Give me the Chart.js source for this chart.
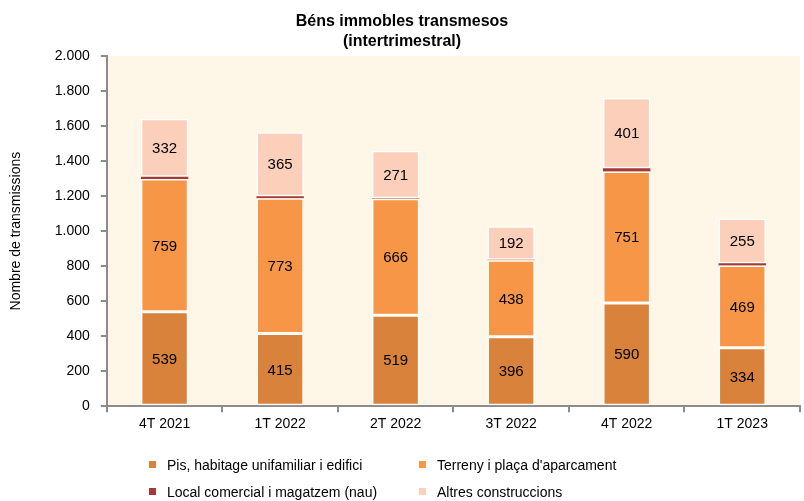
<!DOCTYPE html>
<html>
<head>
<meta charset="utf-8">
<script src="https://cdn.jsdelivr.net/npm/chart.js@4"></script>
<style>
  body { margin: 0; background: #fff; font-family: "Liberation Sans", Arial, sans-serif; }
  #wrap { position: relative; width: 804px; height: 501px; }
  #legend { position: absolute; left: 149px; top: 457px; width: 600px; font-size: 14px; color: #000; }
  .item { position: absolute; white-space: nowrap; }
  .box { display: inline-block; width: 7px; height: 7px; margin-right: 11px; vertical-align: 2px; }
</style>
</head>
<body>
<div id="wrap">
  <canvas id="grafico" width="804" height="501"></canvas>
  <div id="legend"></div>
</div>
<script>
var trimestres = ['4T 2021', '1T 2022', '2T 2022', '3T 2022', '4T 2022', '1T 2023'];
var pis = [539, 415, 519, 396, 590, 334];
var terreny = [759, 773, 666, 438, 751, 469];
var local = [12, 11, 3, 2, 18, 14];
var altres = [332, 365, 271, 192, 401, 255];
var etiquetes = ['Pis, habitage unifamiliar i edifici', 'Terreny i plaça d\'aparcament', 'Local comercial i magatzem (nau)', 'Altres construccions'];
var colors = ['#D8823C', '#F79646', '#A33A3A', '#FBCFBA'];

function formatMiles(v) {
  return v.toString().replace(/\B(?=(\d{3})+(?!\d))/g, '.');
}

var fonsPlugin = {
  id: 'fons',
  beforeDraw: function(chart) {
    var a = chart.chartArea;
    var ctx = chart.ctx;
    ctx.save();
    ctx.fillStyle = '#FEF6E7';
    ctx.fillRect(a.left, a.top, a.right - a.left, a.bottom - a.top);
    ctx.restore();
  }
};

var valorsPlugin = {
  id: 'valors',
  afterDatasetsDraw: function(chart) {
    var ctx = chart.ctx;
    ctx.save();
    ctx.font = '15px "Liberation Sans", Arial, sans-serif';
    ctx.fillStyle = '#000';
    ctx.textAlign = 'center';
    ctx.textBaseline = 'middle';
    chart.data.datasets.forEach(function(ds, i) {
      if (!ds.mostrarValor) return;
      chart.getDatasetMeta(i).data.forEach(function(bar, j) {
        var p = bar.getProps(['x', 'y', 'base'], true);
        ctx.fillText(ds.data[j], p.x, (p.y + p.base) / 2 + 1);
      });
    });
    ctx.restore();
  }
};

var series = [pis, terreny, local, altres];
var datasets = series.map(function(d, i) {
  return {
    label: etiquetes[i],
    data: d,
    backgroundColor: colors[i],
    borderColor: '#FFFFFF',
    borderWidth: i === 2 ? 0 : 1.5,
    borderSkipped: false,
    barPercentage: 0.41,
    categoryPercentage: 1,
    mostrarValor: i !== 2
  };
});

var ctx = document.getElementById('grafico');
new Chart(ctx, {
  type: 'bar',
  data: { labels: trimestres, datasets: datasets },
  plugins: [fonsPlugin, valorsPlugin],
  options: {
    responsive: false,
    animation: false,
    layout: { padding: { left: 4, right: 4, top: 0, bottom: 64 } },
    plugins: {
      legend: { display: false },
      tooltip: { enabled: false },
      title: {
        display: true,
        text: ['Béns immobles transmesos', '(intertrimestral)'],
        color: '#000',
        font: { family: '"Liberation Sans", Arial, sans-serif', size: 16, weight: 'bold', lineHeight: 1.25 },
        padding: { top: 12, bottom: 4 }
      }
    },
    scales: {
      x: {
        stacked: true,
        border: { color: '#8C8C8C', width: 2 },
        grid: { display: true, drawOnChartArea: false, color: '#8C8C8C', tickLength: 6, lineWidth: 2 },
        ticks: { color: '#000', font: { family: '"Liberation Sans", Arial, sans-serif', size: 14 }, padding: 4 }
      },
      y: {
        stacked: true,
        min: 0,
        max: 2000,
        border: { color: '#8C8C8C', width: 2 },
        grid: { display: true, drawOnChartArea: false, color: '#8C8C8C', tickLength: 6, lineWidth: 2 },
        ticks: {
          stepSize: 200,
          color: '#000',
          font: { family: '"Liberation Sans", Arial, sans-serif', size: 14 },
          padding: 11,
          callback: function(v) { return formatMiles(v); }
        },
        title: {
          display: true,
          text: 'Nombre de transmissions',
          color: '#000',
          font: { family: '"Liberation Sans", Arial, sans-serif', size: 14 },
          padding: { bottom: 19 }
        }
      }
    }
  }
});

var legend = document.getElementById('legend');
etiquetes.forEach(function(t, i) {
  var el = document.createElement('div');
  el.className = 'item';
  el.style.left = (i % 2 === 0 ? 0 : 270) + 'px';
  el.style.top = (i < 2 ? 0 : 27) + 'px';
  el.innerHTML = '<span class="box" style="background:' + colors[i] + '"></span>';
  el.appendChild(document.createTextNode(t));
  legend.appendChild(el);
});
</script>
</body>
</html>
